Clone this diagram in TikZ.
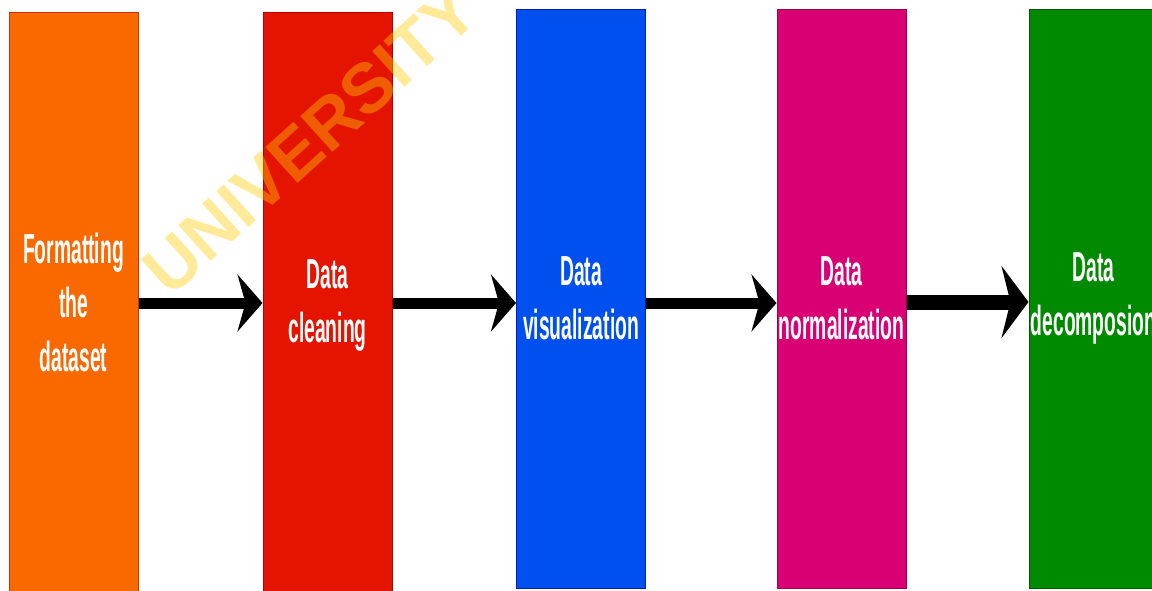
\documentclass[tikz,border=0pt]{standalone}
\usepackage{fontspec}
\usetikzlibrary{arrows.meta}
\newfontfamily\narrowsans[FakeStretch=0.46]{Liberation Sans Bold}
\newfontfamily\wmsans{Liberation Sans}
\definecolor{cOrange}{HTML}{FA6800}\definecolor{sOrange}{HTML}{C73500}
\definecolor{cRed}{HTML}{E51400}\definecolor{sRed}{HTML}{B20000}
\definecolor{cBlue}{HTML}{0050EF}\definecolor{sBlue}{HTML}{001DBC}
\definecolor{cPink}{HTML}{D80073}\definecolor{sPink}{HTML}{A50040}
\definecolor{cGreen}{HTML}{008A00}\definecolor{sGreen}{HTML}{005700}
\definecolor{wmYellow}{HTML}{FFCC00}
\tikzset{
  stagebox/.style={rectangle, minimum width=129pt, inner sep=0pt, line width=1pt,
    text=white, align=center, font=\narrowsans\fontsize{42}{54}\selectfont},
  flowarrow/.style={line width=11pt, -{Stealth[length=25pt, width=57pt, inset=8pt]}},
  bigarrow/.style={line width=15pt, -{Stealth[length=27pt, width=72pt, inset=9pt]}}
}
\begin{document}
\begin{tikzpicture}[x=1pt,y=-1pt]
\useasboundingbox (0,0) rectangle (1152,590);
\clip (0,0) rectangle (1152,590);
\fill[white] (0,0) rectangle (1152,590);
% boxes
\node[stagebox, fill=cOrange, draw=sOrange, minimum height=580pt] (fmt) at (73.5,302) {Formatting\\the\\dataset};
\node[stagebox, fill=cRed, draw=sRed, minimum height=586pt] (cln) at (327.5,305) {Data\\cleaning};
\node[stagebox, fill=cBlue, draw=sBlue, minimum height=579pt] (vis) at (581,298.5) {Data\\visualization};
\node[stagebox, fill=cPink, draw=sPink, minimum height=579pt] (nor) at (841.5,298.5) {Data\\normalization};
\node[stagebox, fill=cGreen, draw=sGreen, minimum height=579pt] (dec) at (1093.5,298.5) {Data\\decomposion};
% arrows
\coordinate (lvl) at (0,303);
\coordinate (lvlb) at (0,302);
\draw[flowarrow] (fmt.east |- lvl) -- (cln.west |- lvl);
\draw[flowarrow] (cln.east |- lvl) -- (vis.west |- lvl);
\draw[flowarrow] (vis.east |- lvl) -- (nor.west |- lvl);
\draw[bigarrow] (nor.east |- lvlb) -- (dec.west |- lvlb);
% watermark
\node[rotate=42, text=wmYellow, text opacity=0.4, font=\wmsans\bfseries\fontsize{70}{70}\selectfont] (wm) at (310,140) {UNIVERSITY};
\end{tikzpicture}
\end{document}
